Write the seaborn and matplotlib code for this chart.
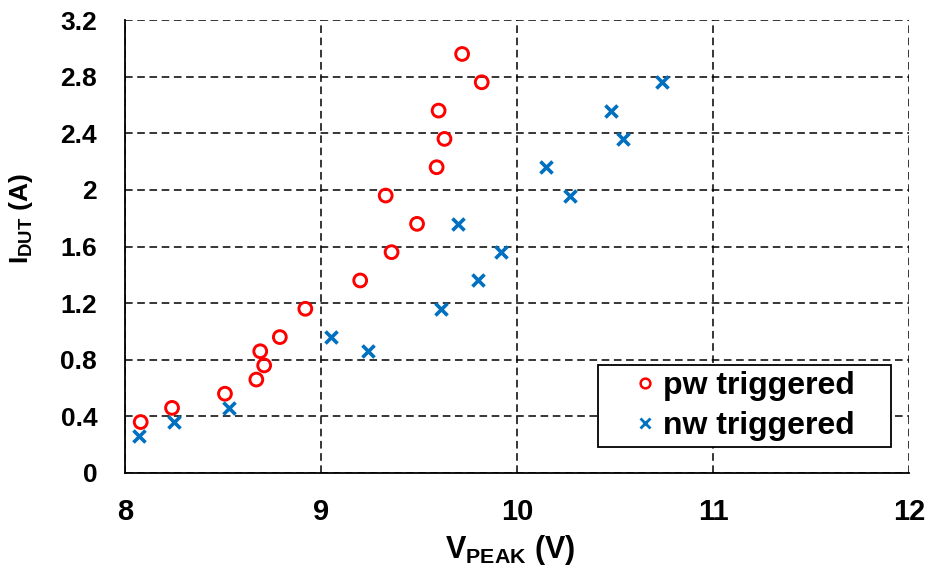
import matplotlib
matplotlib.use("Agg")
import matplotlib.pyplot as plt
import seaborn as sns
import pandas as pd
from matplotlib.lines import Line2D

# Measured peak voltage vs. DUT current for the two trigger types
pw_vpeak = [8.08, 8.24, 8.51, 8.67, 8.71, 8.69, 8.79, 8.92, 9.20, 9.36, 9.49,
            9.33, 9.59, 9.63, 9.60, 9.82, 9.72]
pw_idut = [0.36, 0.46, 0.56, 0.66, 0.76, 0.86, 0.96, 1.16, 1.36, 1.56, 1.76,
           1.96, 2.16, 2.36, 2.56, 2.76, 2.96]

nw_vpeak = [8.07, 8.25, 8.53, 9.05, 9.24, 9.61, 9.80, 9.92, 9.70, 10.27,
            10.15, 10.54, 10.48, 10.74]
nw_idut = [0.26, 0.36, 0.46, 0.96, 0.86, 1.16, 1.36, 1.56, 1.76, 1.96,
           2.16, 2.36, 2.56, 2.76]

x_ticks = [8, 9, 10, 11, 12]
y_ticks = [0, 0.4, 0.8, 1.2, 1.6, 2, 2.4, 2.8, 3.2]
y_tick_labels = ["0", "0.4", "0.8", "1.2", "1.6", "2", "2.4", "2.8", "3.2"]
series_labels = ["pw triggered", "nw triggered"]

pw_df = pd.DataFrame({"vpeak": pw_vpeak, "idut": pw_idut})
nw_df = pd.DataFrame({"vpeak": nw_vpeak, "idut": nw_idut})

sns.set_theme(style="white")
plt.rcParams["font.family"] = ["Liberation Sans", "DejaVu Sans"]
plt.rcParams["font.weight"] = "bold"
plt.rcParams["text.color"] = "black"
plt.rcParams["axes.labelcolor"] = "black"
plt.rcParams["xtick.color"] = "black"
plt.rcParams["ytick.color"] = "black"
plt.rcParams["mathtext.fontset"] = "custom"
plt.rcParams["mathtext.rm"] = "Liberation Sans:bold"
plt.rcParams["mathtext.it"] = "Liberation Sans:bold"
plt.rcParams["mathtext.bf"] = "Liberation Sans:bold"

RED = "#FF0000"
BLUE = "#0070C0"

fig = plt.figure(figsize=(9.30, 5.73), dpi=100)
ax = fig.add_axes([125 / 930, 1 - 473 / 573, 784 / 930, 453 / 573])

sns.scatterplot(data=pw_df, x="vpeak", y="idut", ax=ax, marker="o", s=85,
                facecolor="none", edgecolor=RED, linewidth=2.1, zorder=3)
sns.scatterplot(data=nw_df, x="vpeak", y="idut", ax=ax, marker="x", s=75,
                color=BLUE, linewidth=2.6, zorder=3)

ax.set_xlim(8, 12)
ax.set_ylim(0, 3.2)
ax.set_xticks(x_ticks)
ax.set_xticklabels([str(t) for t in x_ticks], fontsize=21, fontweight="bold")
ax.set_yticks(y_ticks)
ax.set_yticklabels(y_tick_labels, fontsize=19, fontweight="bold")
ax.tick_params(axis="both", length=0, colors="black")
ax.tick_params(axis="x", pad=18)
ax.tick_params(axis="y", pad=20)

ax.grid(True, color="black", linestyle=(0, (5, 3)), linewidth=1.1)
ax.set_axisbelow(True)

for side in ["top", "right"]:
    ax.spines[side].set_visible(False)
for side in ["left", "bottom"]:
    ax.spines[side].set_color("black")
    ax.spines[side].set_linewidth(1.3)

ax.set_xlabel(r"V$_{\mathregular{PEAK}}$ (V)", fontsize=22, fontweight="bold")
ax.set_ylabel(r"I$_{\mathregular{DUT}}$ (A)", fontsize=19, fontweight="bold")
ax.xaxis.set_label_coords(0.491, -0.133)
ax.yaxis.set_label_coords(-0.1148, 0.561)

handles = [
    Line2D([], [], linestyle="none", marker="o", markersize=7,
           markerfacecolor="none", markeredgecolor=RED, markeredgewidth=1.8),
    Line2D([], [], linestyle="none", marker="x", markersize=7,
           color=BLUE, markeredgewidth=2.0),
]
leg = ax.legend(handles, series_labels,
                loc="lower left", mode="expand",
                bbox_to_anchor=(0.603, 0.0574, 0.374, 0.2),
                prop={"family": "Liberation Sans", "weight": "bold", "size": 23},
                frameon=True, fancybox=False, framealpha=1,
                edgecolor="black", handlelength=2.57, handletextpad=-0.72,
                borderpad=0.19, labelspacing=0.32, borderaxespad=0)
leg.get_frame().set_linewidth(1.3)

fig.savefig("out.png", dpi=100)
